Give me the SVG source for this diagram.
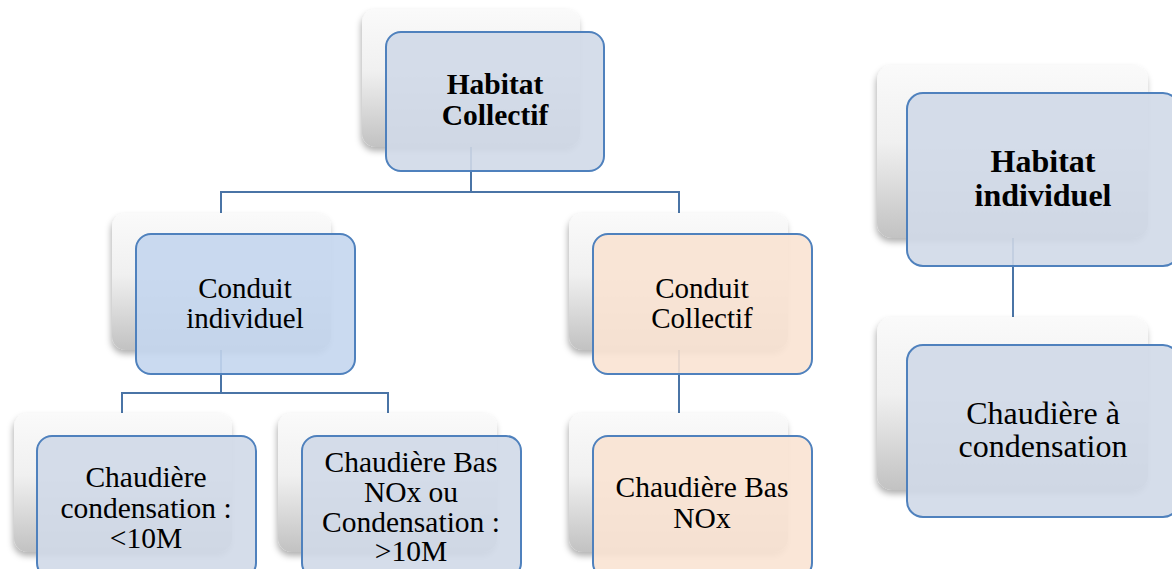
<svg xmlns="http://www.w3.org/2000/svg" width="1172" height="569" viewBox="0 0 1172 569">
<defs>
<linearGradient id="cardGrad" x1="0" y1="0" x2="0" y2="1">
<stop offset="0" stop-color="#fafafa"/>
<stop offset="0.45" stop-color="#f0f0f0"/>
<stop offset="1" stop-color="#c2c2c2"/>
</linearGradient>
<filter id="sh" x="-10%" y="-10%" width="120%" height="125%">
<feDropShadow dx="-1" dy="4" stdDeviation="3" flood-color="#000" flood-opacity="0.3"/>
</filter>
</defs>
<style>
.card{fill:url(#cardGrad);filter:url(#sh);}
.box{stroke:#4f81bd;stroke-width:2;fill-opacity:0.9;}
.blue{fill:#d0d9e8;}
.lblue{fill:#c4d6ee;}
.peach{fill:#fae3d3;}
.conn{fill:none;stroke:#4a74a6;stroke-width:2;}
text{font-family:"Liberation Serif","Times New Roman",serif;font-size:29px;fill:#000;text-anchor:middle;}
.b{font-weight:bold;}
.lg{font-size:32px;}
.md{font-size:29.5px;}
</style>
<rect width="1172" height="569" fill="#ffffff"/>
<g id="connectors">
<path class="conn" d="M471,147 V192 M221,213 V192 H679 V213"/>
<path class="conn" d="M221,350 V393 M122,413 V393 H388 V413"/>
<path class="conn" d="M679,350 V413"/>
<path class="conn" d="M1013,238 V317"/>
</g>
<g id="n-habitat-collectif">
<rect class="card" x="362" y="9" width="218" height="138" rx="14"/>
<rect class="box blue" x="386" y="32" width="218" height="139" rx="15"/>
<text class="b md" x="495" y="94">Habitat</text>
<text class="b md" x="495" y="125">Collectif</text>
</g>
<g id="n-conduit-individuel">
<rect class="card" x="112" y="213" width="219" height="137" rx="14"/>
<rect class="box lblue" x="136" y="234" width="219" height="140" rx="15"/>
<text x="245" y="298">Conduit</text>
<text x="245" y="328">individuel</text>
</g>
<g id="n-conduit-collectif">
<rect class="card" x="569" y="213" width="219" height="137" rx="14"/>
<rect class="box peach" x="593" y="234" width="219" height="140" rx="15"/>
<text x="702" y="298">Conduit</text>
<text x="702" y="328">Collectif</text>
</g>
<g id="n-chaudiere-cond-10">
<rect class="card" x="14" y="413" width="218" height="139" rx="14"/>
<rect class="box blue" x="37" y="436" width="219" height="142" rx="15"/>
<text class="md" x="146" y="487">Chaudière</text>
<text class="md" x="146" y="518">condensation :</text>
<text class="md" x="146" y="548">&lt;10M</text>
</g>
<g id="n-chaudiere-basnox-ou">
<rect class="card" x="278" y="413" width="219" height="139" rx="14"/>
<rect class="box blue" x="302" y="436" width="219" height="142" rx="15"/>
<text class="md" x="411" y="472">Chaudière Bas</text>
<text class="md" x="411" y="502">NOx ou</text>
<text class="md" x="411" y="532">Condensation :</text>
<text class="md" x="411" y="561">&gt;10M</text>
</g>
<g id="n-chaudiere-basnox">
<rect class="card" x="569" y="413" width="219" height="139" rx="14"/>
<rect class="box peach" x="593" y="436" width="219" height="142" rx="15"/>
<text class="md" x="702" y="497">Chaudière Bas</text>
<text class="md" x="702" y="528">NOx</text>
</g>
<g id="n-habitat-individuel">
<rect class="card" x="877" y="65" width="271" height="173" rx="15"/>
<rect class="box blue" x="907" y="93" width="272" height="173" rx="16"/>
<text class="b lg" x="1043" y="172">Habitat</text>
<text class="b lg" x="1043" y="206">individuel</text>
</g>
<g id="n-chaudiere-condensation">
<rect class="card" x="877" y="317" width="271" height="173" rx="15"/>
<rect class="box blue" x="907" y="345" width="272" height="172" rx="16"/>
<text class="lg" x="1043" y="424">Chaudière à</text>
<text class="lg" x="1043" y="457">condensation</text>
</g>
</svg>
